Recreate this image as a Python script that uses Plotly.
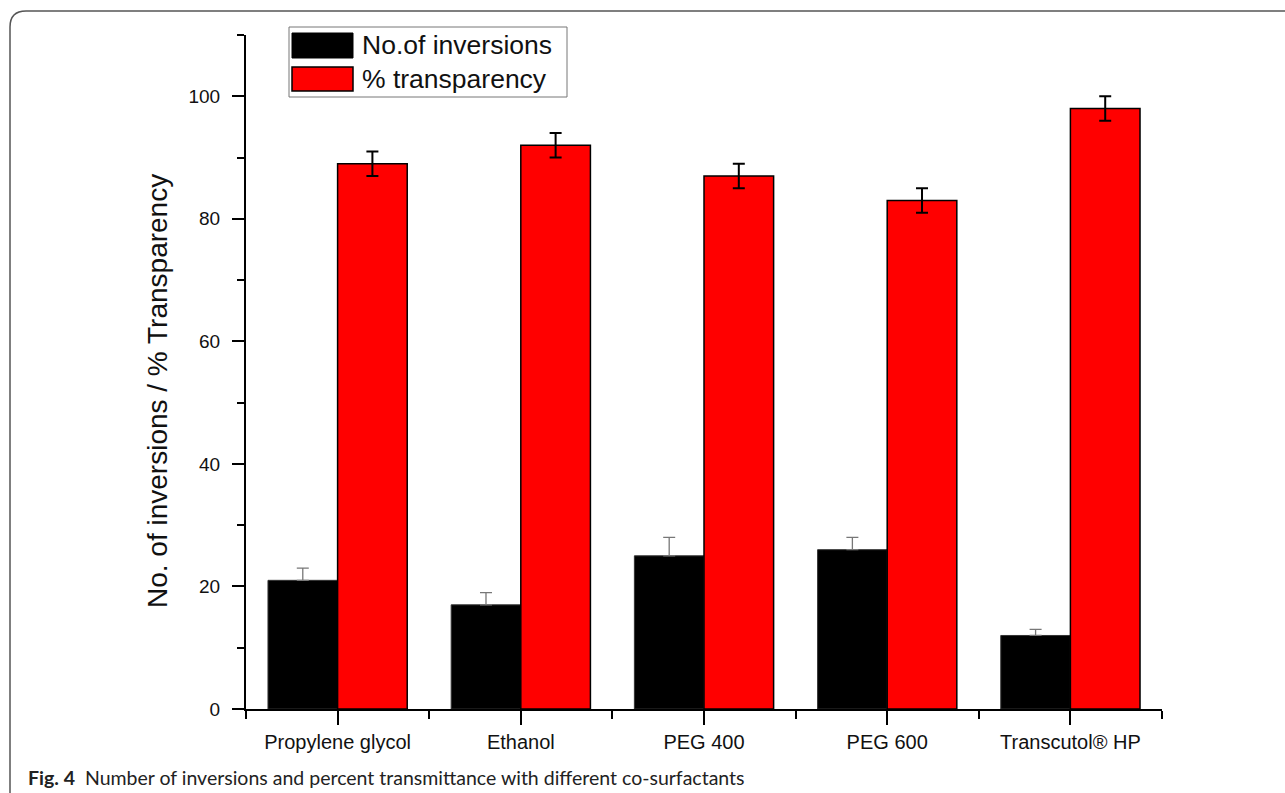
import plotly.graph_objects as go

# Data
categories = ["Propylene glycol", "Ethanol", "PEG 400", "PEG 600", "Transcutol® HP"]
series_names = ["No.of inversions", "% transparency"]
inversions = [21, 17, 25, 26, 12]
inversions_err = [2, 2, 3, 2, 1]
transparency = [89, 92, 87, 83, 98]
transparency_err = [2, 2, 2, 2, 2]
y_ticks = [0, 20, 40, 60, 80, 100]
y_title = "No. of inversions / % Transparency"
caption = ("<b>Fig. 4</b>  Number of inversions and percent transmittance "
           "with different co-surfactants")

# Page geometry (pixels)
W, H = 1285, 793
L, R, T, B = 246, 123, 35, 84
PW, PH = W - L - R, H - T - B


def px(x):
    return (x - L) / PW


def py(y):
    return (H - B - y) / PH


FONT = "Liberation Sans, Arial, sans-serif"
BLACK_COLOR = "#000000"
RED_COLOR = "#ff0000"

xpos = [i + 0.5 for i in range(len(categories))]

fig = go.Figure()
fig.add_bar(
    x=xpos, y=inversions, name=series_names[0],
    marker=dict(color=BLACK_COLOR, line=dict(color="#333333", width=1)),
    error_y=dict(type="data", symmetric=False, array=inversions_err,
                 arrayminus=[0] * len(inversions_err),
                 color="#777777", thickness=1.3, width=6),
)
fig.add_bar(
    x=xpos, y=transparency, name=series_names[1],
    marker=dict(color=RED_COLOR, line=dict(color="#000000", width=1.5)),
    error_y=dict(type="data", array=transparency_err,
                 color="#000000", thickness=2, width=6),
)

fig.update_layout(
    width=W, height=H,
    margin=dict(l=L, r=R, t=T, b=B),
    barmode="group", bargap=0.24, bargroupgap=0,
    showlegend=False,
    plot_bgcolor="white", paper_bgcolor="white",
    font=dict(family=FONT, color="#111111"),
)

fig.update_xaxes(
    range=[0, len(categories)],
    tickmode="array", tickvals=xpos, ticktext=categories,
    ticks="outside", ticklen=14, tickwidth=2, tickcolor="black",
    tickfont=dict(size=20, family=FONT, color="#111111"),
    showline=True, linewidth=2, linecolor="black",
    showgrid=False, zeroline=False,
    minor=dict(tick0=0, dtick=1, ticks="outside", ticklen=8,
               tickwidth=2, tickcolor="black", showgrid=False),
)

fig.update_yaxes(
    range=[0, 110],
    tickmode="array", tickvals=y_ticks,
    ticks="outside", ticklen=12, tickwidth=2, tickcolor="black",
    tickfont=dict(size=19, family=FONT, color="#111111"),
    ticklabelstandoff=8,
    showline=True, linewidth=2, linecolor="black",
    showgrid=False, zeroline=False,
    minor=dict(tick0=0, dtick=10, ticks="outside", ticklen=7,
               tickwidth=2, tickcolor="black", showgrid=False),
)

shapes = []
# Rounded figure frame
shapes.append(dict(
    type="path", xref="paper", yref="paper",
    path=(f"M {px(10)},{py(810)} L {px(10)},{py(27)} "
          f"Q {px(10)},{py(11)} {px(26)},{py(11)} L {px(1300)},{py(11)}"),
    line=dict(color="#555555", width=1.5),
))
# Legend box
shapes.append(dict(type="rect", xref="paper", yref="paper",
                   x0=px(289), x1=px(567), y0=py(97), y1=py(27),
                   line=dict(color="#777777", width=1), fillcolor="white"))
shapes.append(dict(type="rect", xref="paper", yref="paper",
                   x0=px(292), x1=px(353), y0=py(58), y1=py(33),
                   line=dict(color="#000000", width=1), fillcolor=BLACK_COLOR))
shapes.append(dict(type="rect", xref="paper", yref="paper",
                   x0=px(292), x1=px(353), y0=py(91), y1=py(67),
                   line=dict(color="#000000", width=1.5), fillcolor=RED_COLOR))
fig.update_layout(shapes=shapes)

annotations = [
    # y-axis title
    dict(xref="paper", yref="paper", x=px(157), y=py(391), xanchor="center",
         yanchor="middle", showarrow=False, text=y_title, textangle=-90,
         font=dict(size=28, family=FONT, color="#111111")),
    # legend labels
    dict(xref="paper", yref="paper", x=px(360), y=py(45), xanchor="left",
         yanchor="middle", showarrow=False, text=series_names[0],
         font=dict(size=26.5, family=FONT, color="#111111")),
    dict(xref="paper", yref="paper", x=px(360), y=py(79), xanchor="left",
         yanchor="middle", showarrow=False, text=series_names[1],
         font=dict(size=26.5, family=FONT, color="#111111")),
    # caption
    dict(xref="paper", yref="paper", x=px(26), y=py(777), xanchor="left",
         yanchor="middle", showarrow=False, text=caption,
         font=dict(size=19.5, family="Lato, Open Sans, sans-serif",
                   color="#222222")),
]
fig.update_layout(annotations=annotations)

fig.write_html("out.html")
